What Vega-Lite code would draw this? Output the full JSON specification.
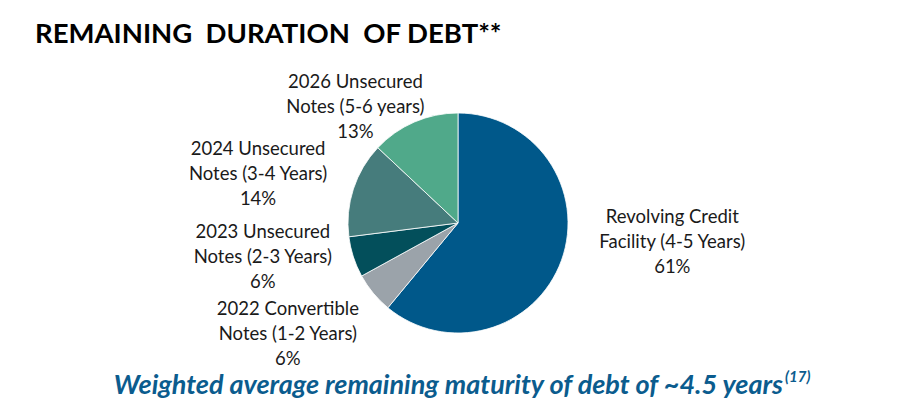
{
  "$schema": "https://vega.github.io/schema/vega-lite/v6.json",
  "width": 908,
  "height": 354,
  "autosize": "none",
  "padding": {"top": 46, "bottom": 14, "left": 4, "right": 0},
  "background": "white",
  "config": {"view": {"stroke": null}, "text": {"font": "Lato", "lineBreak": "\n"}},
  "data": {
    "values": [
      {"category": "Revolving Credit Facility", "label": "Revolving Credit\nFacility (4-5 Years)\n61%", "value": 61, "order": 1},
      {"category": "2022 Convertible Notes", "label": "2022 Convertible\nNotes (1-2 Years)\n6%", "value": 6, "order": 2},
      {"category": "2023 Unsecured Notes", "label": "2023 Unsecured\nNotes (2-3 Years)\n6%", "value": 6, "order": 3},
      {"category": "2024 Unsecured Notes", "label": "2024 Unsecured\nNotes (3-4 Years)\n14%", "value": 14, "order": 4},
      {"category": "2026 Unsecured Notes", "label": "2026 Unsecured\nNotes (5-6 years)\n13%", "value": 13, "order": 5}
    ]
  },
  "encoding": {
    "theta": {"field": "value", "type": "quantitative", "stack": true},
    "order": {"field": "order", "type": "quantitative"}
  },
  "layer": [
    {
      "mark": {"type": "arc", "outerRadius": 110, "stroke": "white", "strokeWidth": 0.8},
      "encoding": {
        "color": {
          "field": "category",
          "type": "nominal",
          "legend": null,
          "scale": {
            "domain": ["Revolving Credit Facility", "2022 Convertible Notes", "2023 Unsecured Notes", "2024 Unsecured Notes", "2026 Unsecured Notes"],
            "range": ["#00588A", "#9BA3AA", "#034F5B", "#467C7C", "#50A98A"]
          }
        }
      }
    },
    {
      "mark": {"type": "text", "radius": 215, "dx": 12, "dy": -79, "fontSize": 18.5, "lineHeight": 25, "color": "#1a1a1a", "align": "center", "baseline": "middle"},
      "encoding": {"text": {"condition": {"test": "datum.order == 1", "field": "label"}, "value": ""}}
    },
    {
      "mark": {"type": "text", "radius": 200, "dx": -16, "dy": -41, "fontSize": 18.5, "lineHeight": 25, "color": "#1a1a1a", "align": "center", "baseline": "middle"},
      "encoding": {"text": {"condition": {"test": "datum.order == 2", "field": "label"}, "value": ""}}
    },
    {
      "mark": {"type": "text", "radius": 200, "dx": -5, "dy": -53, "fontSize": 18.5, "lineHeight": 25, "color": "#1a1a1a", "align": "center", "baseline": "middle"},
      "encoding": {"text": {"condition": {"test": "datum.order == 3", "field": "label"}, "value": ""}}
    },
    {
      "mark": {"type": "text", "radius": 205, "dx": -5, "dy": -11, "fontSize": 18.5, "lineHeight": 25, "color": "#1a1a1a", "align": "center", "baseline": "middle"},
      "encoding": {"text": {"condition": {"test": "datum.order == 4", "field": "label"}, "value": ""}}
    },
    {
      "mark": {"type": "text", "radius": 150, "dx": -43, "dy": -3, "fontSize": 18.5, "lineHeight": 25, "color": "#1a1a1a", "align": "center", "baseline": "middle"},
      "encoding": {"text": {"condition": {"test": "datum.order == 5", "field": "label"}, "value": ""}}
    },
    {
      "data": {"values": [{"heading": "REMAINING\u00a0 DURATION\u00a0 OF DEBT**", "note": "Weighted average remaining maturity of debt of ~4.5 years", "ref": "(17)"}]},
      "layer": [
        {
          "mark": {"type": "text", "x": {"expr": "31"}, "y": {"expr": "-3"}, "align": "left", "baseline": "alphabetic", "fontSize": 27.5, "fontWeight": "bold", "color": "#000000"},
          "encoding": {"text": {"field": "heading"}, "theta": null, "order": null}
        },
        {
          "mark": {"type": "text", "x": {"expr": "width/2 + 325"}, "y": {"expr": "height - 14"}, "align": "right", "baseline": "middle", "fontSize": 27, "fontWeight": "bold", "fontStyle": "italic", "color": "#0B5C8E"},
          "encoding": {"text": {"field": "note"}, "theta": null, "order": null}
        },
        {
          "mark": {"type": "text", "x": {"expr": "width/2 + 327"}, "y": {"expr": "height - 23"}, "align": "left", "baseline": "middle", "fontSize": 15, "fontWeight": "bold", "fontStyle": "italic", "color": "#0B5C8E"},
          "encoding": {"text": {"field": "ref"}, "theta": null, "order": null}
        }
      ]
    }
  ]
}
